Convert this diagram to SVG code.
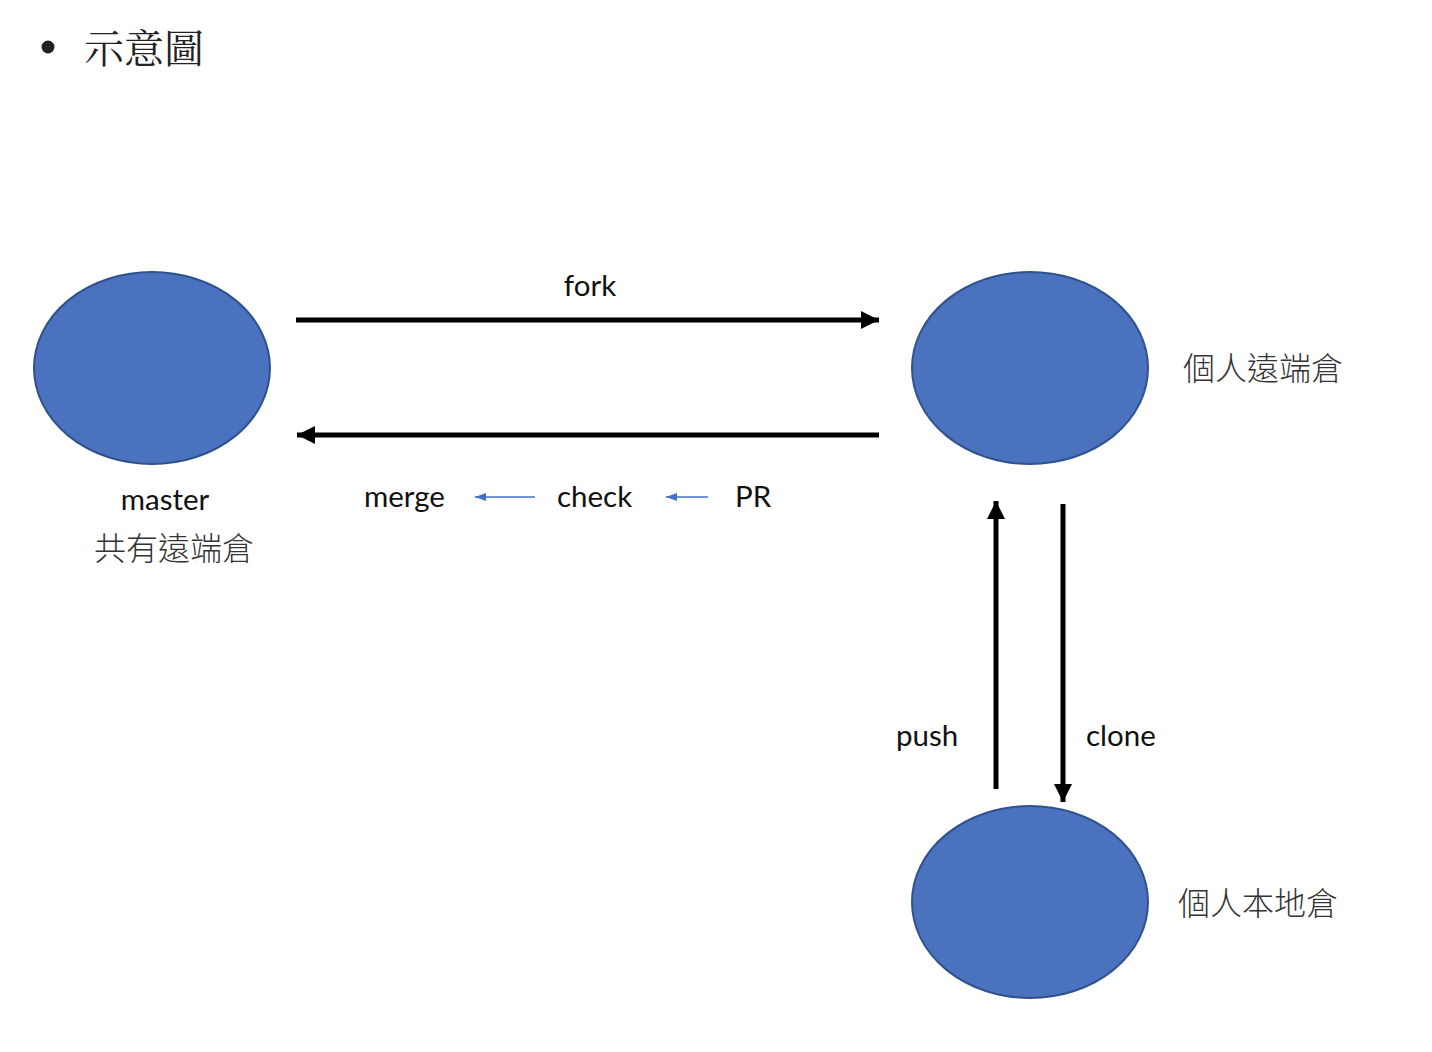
<svg xmlns="http://www.w3.org/2000/svg" width="1432" height="1052" viewBox="0 0 1432 1052">
<defs>
<marker id="bh" markerUnits="userSpaceOnUse" markerWidth="20" markerHeight="20" viewBox="0 0 20 20" refX="18" refY="10" orient="auto"><path d="M0,1 L18,10 L0,19 Z" fill="#000"/></marker>
<marker id="sh" markerUnits="userSpaceOnUse" markerWidth="12" markerHeight="10" viewBox="0 0 12 10" refX="11" refY="5" orient="auto"><path d="M0,1 L11,5 L0,9 Z" fill="#4472C4"/></marker>
<style>
.node{fill:#4A72BE;stroke:#2F528F;stroke-width:2}
.lbl{font-family:"Lato","Open Sans","Liberation Sans",sans-serif;font-size:29.5px;fill:#111}
.cjk{font-family:"Noto Sans CJK TC","Noto Sans CJK SC",sans-serif;font-size:32px;fill:#333;font-weight:300}
.big{stroke:#000;stroke-width:5;fill:none}
.small{stroke:#4472C4;stroke-width:1.6;fill:none}
</style>
</defs>
<rect width="1432" height="1052" fill="#fff"/>
<g id="title">
<circle cx="48" cy="47" r="6.5" fill="#222"/>
<text x="84" y="63" font-family="Noto Serif CJK TC,Noto Sans CJK TC,serif" font-size="40" fill="#222">示意圖</text>
</g>
<g id="master">
<ellipse class="node" cx="152" cy="368" rx="118" ry="96"/>
<text class="lbl" x="165" y="510" text-anchor="middle">master</text>
<text class="cjk" x="174" y="560" text-anchor="middle">共有遠端倉</text>
</g>
<g id="remote">
<ellipse class="node" cx="1030" cy="368" rx="118" ry="96"/>
<text class="cjk" x="1263" y="380" text-anchor="middle">個人遠端倉</text>
</g>
<g id="local">
<ellipse class="node" cx="1030" cy="902" rx="118" ry="96"/>
<text class="cjk" x="1258" y="915" text-anchor="middle">個人本地倉</text>
</g>
<g id="connectors">
<line class="big" x1="296" y1="320" x2="879" y2="320" marker-end="url(#bh)"/>
<text class="lbl" x="590" y="296" text-anchor="middle">fork</text>
<line class="big" x1="879" y1="435" x2="297" y2="435" marker-end="url(#bh)"/>
<line class="small" x1="535" y1="497" x2="475" y2="497" marker-end="url(#sh)"/>
<line class="small" x1="708" y1="497" x2="666" y2="497" marker-end="url(#sh)"/>
<text class="lbl" x="364" y="507">merge</text>
<text class="lbl" x="557" y="507">check</text>
<text class="lbl" x="735" y="507">PR</text>
<line class="big" x1="996" y1="789" x2="996" y2="501" marker-end="url(#bh)"/>
<line class="big" x1="1063" y1="504" x2="1063" y2="802" marker-end="url(#bh)"/>
<text class="lbl" x="896" y="746">push</text>
<text class="lbl" x="1086" y="746">clone</text>
</g>
</svg>
